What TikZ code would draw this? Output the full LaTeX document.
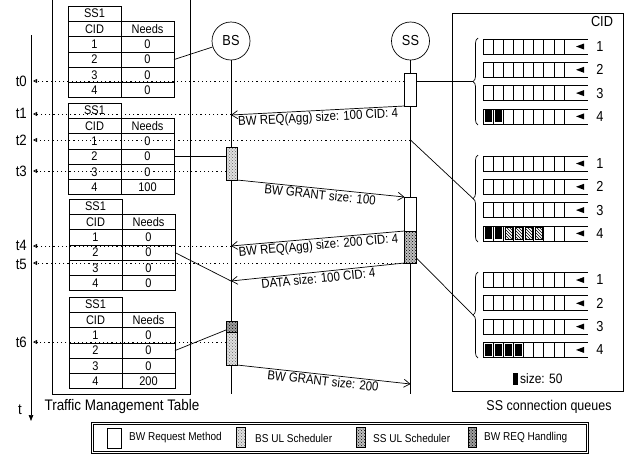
\documentclass[tikz,border=0pt]{standalone}
\usepackage{fontspec}
\setmainfont{Liberation Sans}[FakeStretch=0.88]
\usetikzlibrary{arrows.meta,patterns,decorations.pathreplacing,calc}
\newcommand\fsz[1]{\fontsize{#1}{#1}\selectfont}
\tikzset{
  ln/.style={line width=0.7pt},
  ql/.style={line width=0.7pt},
  cell/.style={draw, line width=0.8pt, minimum width=53pt, minimum height=15.3pt, inner sep=0pt, outer sep=0pt, anchor=north west, font=\fsz{12.5}},
  actor/.style={draw, circle, minimum size=38pt, inner sep=0pt, font=\fsz{14.5}, line width=0.7pt},
  reqbox/.style={draw, fill=white, minimum width=12pt, inner sep=0pt, outer sep=0pt, line width=0.7pt},
  bsul/.style={draw, line width=0.7pt, preaction={fill=gray!25}, pattern=crosshatch dots, pattern color=gray!80!black, minimum width=11pt, inner sep=0pt, outer sep=0pt},
  ssul/.style={draw, line width=0.7pt, preaction={fill=gray!50}, pattern=crosshatch dots, pattern color=black, minimum width=12pt, inner sep=0pt, outer sep=0pt},
  reqh/.style={draw, line width=0.7pt, preaction={fill=gray!75}, pattern=crosshatch dots, pattern color=black, minimum width=11pt, inner sep=0pt, outer sep=0pt},
  msg/.style={-{Straight Barb[length=6pt,width=8pt]}, line width=0.7pt},
  mlabel/.style={font=\fsz{13}, sloped, below, inner sep=1.2pt, midway},
  tline/.style={line width=0.8pt, dash pattern=on 1.2pt off 3pt, -{Triangle[open,length=4pt,width=4pt]}},
  tlabel/.style={font=\fsz{15}, anchor=east, inner sep=0pt},
  qnum/.style={font=\fsz{14.5}, inner sep=0pt},
  legtext/.style={font=\fsz{11.4}, anchor=west, inner sep=0pt},
}
\newcommand\sstab[4]{%
  \node[cell] (#1-h) at (#2,#3) {SS1};
  \node[cell] (#1-c0) at (#1-h.south west) {CID};
  \node[cell] (#1-n0) at (#1-c0.north east) {Needs};
  \node[cell] (#1-c1) at (#1-c0.south west) {1};
  \node[cell] (#1-n1) at (#1-c1.north east) {0};
  \node[cell] (#1-c2) at (#1-c1.south west) {2};
  \node[cell] (#1-n2) at (#1-c2.north east) {0};
  \node[cell] (#1-c3) at (#1-c2.south west) {3};
  \node[cell] (#1-n3) at (#1-c3.north east) {0};
  \node[cell] (#1-c4) at (#1-c3.south west) {4};
  \node[cell] (#1-n4) at (#1-c4.north east) {#4};
}
\newcommand\qrow[3]{%
  \draw[ql] (564,#2-7.5) -- (588,#2-7.5) (564,#2+7.5) -- (588,#2+7.5);
  \foreach \k in {0,...,7}{\draw[ql] (483+\k*10.125,#2-7.5) rectangle ++(10.125,15);}
  \fill (576,#2) -- (584,#2-3) -- (584,#2+3) -- cycle;
  \node[qnum] (#1) at (600,#2) {#3};
}
\newcommand\qblk[2]{\fill (484.6+#1*10.125,#2-6) rectangle ++(7,12);}
\newcommand\qhat[2]{\draw[line width=0.5pt, preaction={fill=white}, pattern=north west lines] (484.6+#1*10.125,#2-6) rectangle ++(7,12);}
\begin{document}
\begin{tikzpicture}[x=1pt,y=-1pt]
\useasboundingbox (0,0) rectangle (634,459);
\fill[white] (0,0) rectangle (634,459);

% traffic management table frame
\draw[ln] (52,0) -- (52,394) -- (190,394) -- (190,0);
\node[font=\fsz{15.3}] (tmt) at (122,407) {Traffic Management Table};

% tables
\sstab{tA}{68}{6}{0}
\sstab{tB}{68}{103}{100}
\sstab{tC}{69}{199}{0}
\sstab{tD}{69}{297}{200}

% time axis
\coordinate (tax0) at (31,35);
\coordinate (tax1) at (31,421);
\draw[ln,-{Triangle[length=6pt,width=4.5pt]}] (tax0) -- (tax1);
\node[font=\fsz{15}] (tt) at (20,410) {t};

% actors and lifelines
\node[actor] (BS) at (231,41) {BS};
\node[actor] (SS) at (410.5,41) {SS};
\coordinate (bsend) at (231,394);
\coordinate (ssend) at (410.5,394);
\draw[ln] (BS) -- (bsend);
\draw[ln] (SS) -- (ssend);

% activation boxes
\node[reqbox, minimum height=33pt] (ssb1) at (410.5,89.5) {};
\node[bsul, minimum height=33pt] (bsb1) at (231.5,163.5) {};
\node[reqbox, minimum height=34pt] (ssb2) at (410.5,214) {};
\node[ssul, minimum height=32pt] (ssb3) at (410.5,247) {};
\node[reqh, minimum height=11pt] (bsreq) at (231.5,326.5) {};
\node[bsul, minimum height=33pt] (bsb2) at (231.5,348.5) {};

% time lines
\coordinate (p0) at (33,81);
\coordinate (p1) at (33,114);
\coordinate (p2) at (33,140);
\coordinate (p3) at (33,171);
\coordinate (p4) at (33,246);
\coordinate (p5) at (33,263);
\coordinate (p6) at (33,342);
\coordinate (q2s) at (SS |- p2);
\node[tlabel] (t0) at (27,81) {t0};
\node[tlabel] (t1) at (27,113) {t1};
\node[tlabel] (t2) at (27,140) {t2};
\node[tlabel] (t3) at (27,171) {t3};
\node[tlabel] (t4) at (27,245) {t4};
\node[tlabel] (t5) at (27,264) {t5};
\node[tlabel] (t6) at (27,342) {t6};
\draw[tline] (ssb1.west |- p0) -- (p0);
\draw[tline] (BS |- p1) -- (p1);
\draw[tline] (q2s) -- (p2);
\draw[tline] (bsb1.west |- p3) -- (p3);
\draw[tline] (BS |- p4) -- (p4);
\draw[tline] (ssb3.west |- p5) -- (p5);
\draw[tline] (bsb2.west |- p6) -- (p6);

% messages
\coordinate (m1e) at (231,115);
\coordinate (m3e) at (231,246);
\coordinate (m4e) at (231,281);
\coordinate (m5e) at (410.5,384);
\draw[msg] (ssb1.south west) -- node[mlabel]{BW REQ(Agg) size: 100 CID: 4} (m1e);
\draw[msg] (bsb1.south east) -- node[mlabel]{BW GRANT size: 100} (ssb2.north west);
\draw[msg] (ssb3.north west) -- node[mlabel]{BW REQ(Agg) size: 200 CID: 4} (m3e);
\draw[msg] (ssb3.south west) -- node[mlabel]{DATA size: 100 CID: 4} (m4e);
\draw[msg] (bsb2.south east) -- node[mlabel]{BW GRANT size: 200} (m5e);

% table connectors
\draw[ln] (tA-n2.east) -- (BS);
\draw[ln] (tB-n2.east) -- (tB-n2.east -| bsb1.west);
\draw[ln] (tC-n2.east) -- (m4e);
\draw[ln] (tD-n2.east) -- ($(bsreq.south west)+(0,-2)$);

% SS connection queues
\node[draw, line width=0.7pt, minimum width=171pt, minimum height=378pt, inner sep=0pt] (qframe) at (537.5,202) {};
\node[font=\fsz{14.5}, inner sep=0pt] (cidlab) at (602,22) {CID};
\node[font=\fsz{14.2}] (sscq) at (549,407) {SS connection queues};

\qrow{gAa}{46.5}{1}
\qrow{gAb}{69.8}{2}
\qrow{gAc}{93.1}{3}
\qrow{gAd}{116.4}{4}
\qblk{0}{116.4}\qblk{1}{116.4}
\qrow{gBa}{163.5}{1}
\qrow{gBb}{186.8}{2}
\qrow{gBc}{210.1}{3}
\qrow{gBd}{233.4}{4}
\qblk{0}{233.4}\qblk{1}{233.4}
\qhat{2}{233.4}\qhat{3}{233.4}\qhat{4}{233.4}\qhat{5}{233.4}
\qrow{gCa}{280}{1}
\qrow{gCb}{303.3}{2}
\qrow{gCc}{326.6}{3}
\qrow{gCd}{349.9}{4}
\qblk{0}{349.9}\qblk{1}{349.9}\qblk{2}{349.9}\qblk{3}{349.9}

\draw[ln, decorate, decoration={brace, amplitude=5pt}] (478,125) -- (478,38);
\draw[ln, decorate, decoration={brace, amplitude=5pt}] (478,242) -- (478,155);
\draw[ln, decorate, decoration={brace, amplitude=5pt}] (478,358) -- (478,272);
\coordinate (gAtip) at (473,81.5);
\coordinate (gBtip) at (473,198.5);
\coordinate (gCtip) at (473,315);
\draw[ln] (ssb1.east |- gAtip) -- (gAtip);
\draw[ln] (q2s) -- (gBtip);
\draw[ln] ($(ssb3.south east)+(0,-5)$) -- (gCtip);

\fill (513,373) rectangle (517.5,385);
\node[font=\fsz{13.6}, anchor=west, inner sep=0pt] (sz) at (520,379) {size: 50};

% legend
\node[draw, double, double distance=1.3pt, line width=0.6pt, minimum width=495pt, minimum height=29pt, inner sep=0pt] (legend) at (340,438) {};
\node[reqbox, minimum width=14pt, minimum height=20pt] (lg1) at (114,438) {};
\node[legtext] (lt1) at (129,438) {BW Request Method};
\node[bsul, minimum width=9pt, minimum height=20pt] (lg2) at (241,437.5) {};
\node[legtext] (lt2) at (255,438) {BS UL Scheduler};
\node[ssul, minimum width=8.5pt, minimum height=20pt] (lg3) at (361,437.5) {};
\node[legtext] (lt3) at (373,438) {SS UL Scheduler};
\node[reqh, minimum width=8.5pt, minimum height=20pt] (lg4) at (472.5,437.5) {};
\node[legtext] (lt4) at (484,438) {BW REQ Handling};
\end{tikzpicture}
\end{document}
